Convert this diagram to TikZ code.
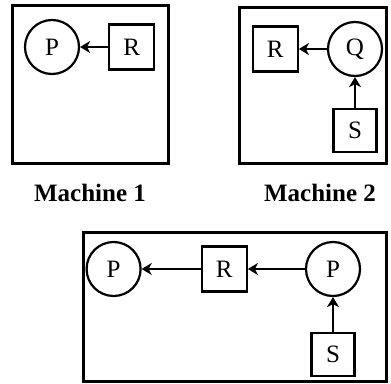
\documentclass[tikz,border=0pt]{standalone}
\usepackage{fontspec}
\setmainfont{Liberation Serif}
\usetikzlibrary{arrows.meta,positioning}

\begin{document}
\begin{tikzpicture}[x=1pt, y=-1pt, node distance=28pt and 28pt,
  part/.style={draw, circle, line width=2.2pt, minimum size=54pt, inner sep=0pt, font=\fontsize{25}{30}\selectfont},
  tool/.style={draw, rectangle, line width=2.2pt, minimum size=45pt, inner sep=0pt, font=\fontsize{25}{30}\selectfont},
  frame/.style={line width=3pt},
  flow/.style={-{Stealth[length=10pt,width=12pt,inset=3pt]}, line width=2.2pt}]
\useasboundingbox (0,0) rectangle (391,383);

% Machine 1
\draw[frame] (12,5) rectangle (168,163);
\node[part] (m1P) at (52,47) {P};
\node[tool, right=28pt of m1P] (m1R) {R};
\node[font=\bfseries\fontsize{25}{30}\selectfont] (lab1) at (90,193) {Machine 1};

% Machine 2
\draw[frame] (239,7) rectangle (386,163);
\node[part] (m2Q) at (355,49) {Q};
\node[tool, left=28pt of m2Q] (m2R) {R};
\node[tool, minimum size=43pt, below=31pt of m2Q] (m2S) {S};
\node[font=\bfseries\fontsize{25}{30}\selectfont] (lab2) at (320,193) {Machine 2};

% combined line
\draw[frame] (83,232) rectangle (386,381);
\node[part] (m3P2) at (333,269) {P};
\node[tool, left=57pt of m3P2] (m3R) {R};
\node[part, left=59pt of m3R] (m3P1) {P};
\node[tool, minimum size=43pt, below=35pt of m3P2] (m3S) {S};

\draw[flow] (m1R)--(m1P);
\draw[flow] (m2Q)--(m2R);
\draw[flow] (m2S)--(m2Q);
\draw[flow] (m3P2)--(m3R);
\draw[flow] (m3R)--(m3P1);
\draw[flow] (m3S)--(m3P2);
\end{tikzpicture}
\end{document}
